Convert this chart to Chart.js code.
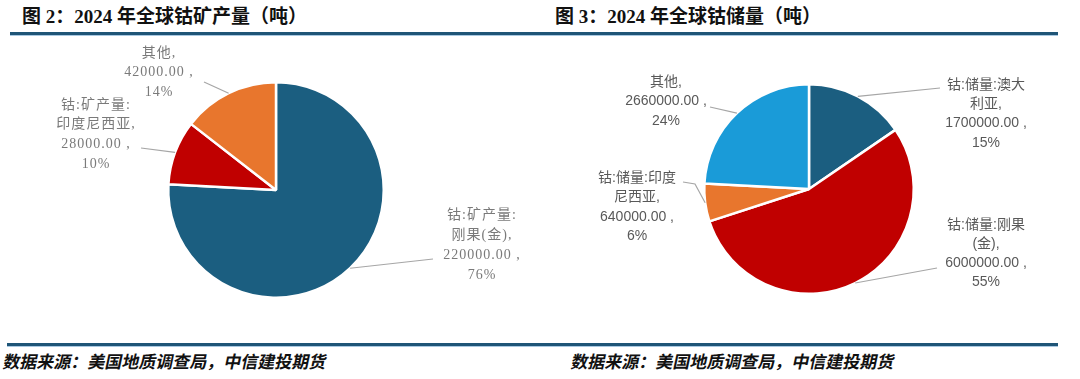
<!DOCTYPE html>
<html>
<head>
<meta charset="utf-8">
<script src="https://cdn.jsdelivr.net/npm/chart.js@4.4.1/dist/chart.umd.min.js"></script>
<style>
  html, body { margin:0; padding:0; background:#fff; }
  body { width:1080px; height:379px; position:relative; overflow:hidden; }
  .title { position:absolute; font-family:"Liberation Serif","Noto Sans CJK SC",serif; font-weight:bold; font-size:19px; line-height:19px; color:#111; white-space:nowrap; }
  .foot { position:absolute; font-family:"Noto Sans CJK SC",sans-serif; font-weight:bold; font-size:17px; line-height:17px; color:#111; white-space:nowrap; transform:skewX(-12deg); transform-origin:0 100%; }
  .rule { position:absolute; height:3px; background:#1f5577; border-bottom:1px solid #a9c9e2; }
  canvas { position:absolute; }
</style>
</head>
<body>
<div class="title" style="left:22px; top:7px;">图 2：2024 年全球钴矿产量（吨）</div>
<div class="title" style="left:555px; top:7px;">图 3：2024 年全球钴储量（吨）</div>
<div class="rule" style="left:10px; width:530px; top:32px;"></div>
<div class="rule" style="left:540px; width:518px; top:32px;"></div>
<div class="rule" style="left:7px; width:533px; top:343px;"></div>
<div class="rule" style="left:540px; width:518px; top:343px;"></div>
<div class="foot" style="left:2px; top:352px;">数据来源：美国地质调查局，中信建投期货</div>
<div class="foot" style="left:570px; top:352px;">数据来源：美国地质调查局，中信建投期货</div>

<canvas id="c1" width="540" height="300" style="left:0px; top:40px;"></canvas>
<canvas id="c2" width="540" height="300" style="left:540px; top:40px;"></canvas>

<script>
// ---- Data: Figure 2, 2024 global cobalt mine production (tonnes)
const productionCategories = [["钴:矿产量:", "刚果(金)"], ["钴:矿产量:", "印度尼西亚"], ["其他"]];
const productionValues = [220000, 28000, 42000];
const productionColors = ["#1b5e80", "#c00000", "#e8762d"];

// ---- Data: Figure 3, 2024 global cobalt reserves (tonnes)
const reserveCategories = [["钴:储量:澳大", "利亚"], ["钴:储量:刚果", "(金)"], ["钴:储量:印度", "尼西亚"], ["其他"]];
const reserveValues = [1700000, 6000000, 640000, 2660000];
const reserveColors = ["#1b5e80", "#c00000", "#e8762d", "#1a9bd8"];

const sliceLabels = {
  id: 'sliceLabels',
  afterDatasetsDraw(chart, args, opts) {
    const ctx = chart.ctx;
    const meta = chart.getDatasetMeta(0);
    const data = chart.data.datasets[0].data;
    const labels = chart.data.labels;
    const total = data.reduce((a, b) => a + b, 0);
    ctx.save();
    meta.data.forEach((arc, i) => {
      const p = arc.getProps(['x', 'y', 'startAngle', 'endAngle', 'outerRadius'], true);
      const mid = (p.startAngle + p.endAngle) / 2;
      const ax = p.x + Math.cos(mid) * p.outerRadius;
      const ay = p.y + Math.sin(mid) * p.outerRadius;
      const pos = opts.positions[i];
      // leader line
      ctx.strokeStyle = opts.lineColor;
      ctx.lineWidth = 1.2;
      ctx.beginPath();
      ctx.moveTo(pos.lx, pos.ly);
      if (pos.ex !== undefined) ctx.lineTo(pos.ex, pos.ey);
      ctx.lineTo(ax, ay);
      ctx.stroke();
      // text
      const name = Array.isArray(labels[i]) ? labels[i].slice() : [labels[i]];
      name[name.length - 1] = name[name.length - 1] + ',';
      const lines = name.concat([data[i].toFixed(2) + ' ,', Math.round(data[i] / total * 100) + '%']);
      ctx.fillStyle = opts.color;
      ctx.font = opts.font;
      if ('letterSpacing' in ctx) ctx.letterSpacing = opts.spacing || '0px';
      ctx.textAlign = 'center';
      ctx.textBaseline = 'middle';
      lines.forEach((t, k) => ctx.fillText(t, pos.x, pos.y + k * pos.lh));
    });
    ctx.restore();
  }
};

function makePie(id, cats, vals, colors, padding, labelOpts) {
  return new Chart(document.getElementById(id), {
    type: 'pie',
    data: {
      labels: cats,
      datasets: [{ data: vals, backgroundColor: colors, borderColor: '#ffffff', borderWidth: 2.5 }]
    },
    options: {
      responsive: false,
      animation: false,
      devicePixelRatio: 1,
      layout: { padding: padding },
      plugins: { legend: { display: false }, tooltip: { enabled: false }, sliceLabels: labelOpts }
    },
    plugins: [sliceLabels]
  });
}

makePie('c1', productionCategories, productionValues, productionColors,
  { left: 167, right: 155, top: 41, bottom: 41 },
  {
    font: '14px "Liberation Serif", "Noto Sans CJK SC", serif',
    spacing: '1px',
    color: '#7a7a7a',
    lineColor: '#a6a6a6',
    positions: [
      { x: 482, y: 175, lh: 20, lx: 433, ly: 219 },
      { x: 96, y: 65, lh: 19.7, lx: 141, ly: 108 },
      { x: 159, y: 13, lh: 19.5, lx: 204, ly: 42 }
    ]
  });

makePie('c2', reserveCategories, reserveValues, reserveColors,
  { left: 163, right: 165, top: 43, bottom: 45 },
  {
    font: '14px "Liberation Sans", "Noto Sans CJK SC", sans-serif',
    spacing: '0px',
    color: '#595959',
    lineColor: '#a6a6a6',
    positions: [
      { x: 446, y: 45, lh: 19.3, lx: 400, ly: 48 },
      { x: 446, y: 185, lh: 19, lx: 397, ly: 228 },
      { x: 97, y: 138, lh: 19.5, lx: 143, ly: 142, ex: 155, ey: 144 },
      { x: 126, y: 42, lh: 19.5, lx: 170, ly: 67 }
    ]
  });
</script>
</body>
</html>
